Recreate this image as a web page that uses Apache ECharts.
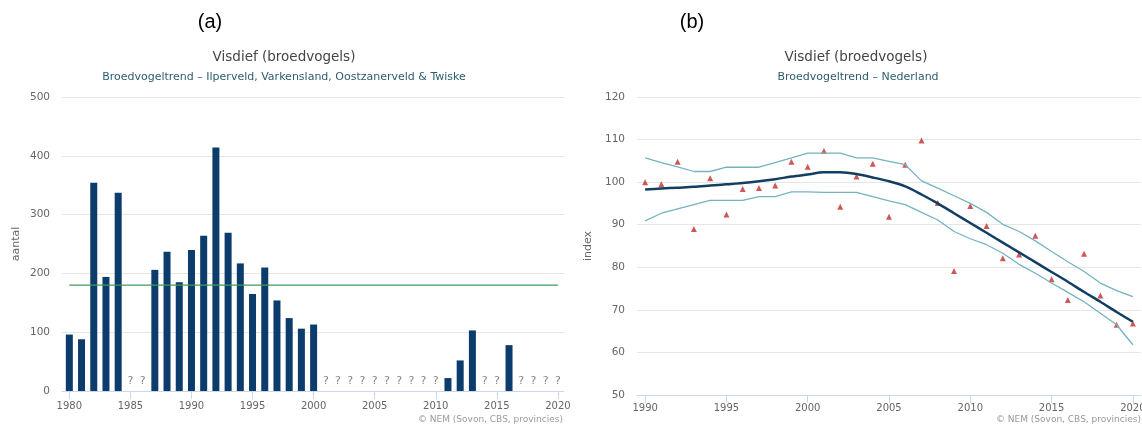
<!DOCTYPE html>
<html>
<head>
<meta charset="utf-8">
<script src="https://cdn.jsdelivr.net/npm/echarts@6.0.0/dist/echarts.min.js"></script>
<style>
html, body { margin: 0; padding: 0; background: #fff; }
#chart { width: 1142px; height: 427px; }
</style>
</head>
<body>
<div id="chart"></div>
<script>
// (a) broedparen per jaar, Ilperveld e.o.
var barYears = [1980, 1981, 1982, 1983, 1984, 1987, 1988, 1989, 1990, 1991, 1992, 1993,
  1994, 1995, 1996, 1997, 1998, 1999, 2000, 2011, 2012, 2013, 2016]
var barCounts = [96, 88, 354, 194, 337, 206, 237, 185, 240, 264, 414, 269,
  217, 165, 210, 154, 124, 106, 113, 22, 52, 103, 78]
// jaren zonder telling (vraagteken)
var missingYears = [1985, 1986, 2001, 2002, 2003, 2004, 2005, 2006, 2007, 2008, 2009, 2010,
  2014, 2015, 2017, 2018, 2019, 2020]
var meanYears = [1980, 2020]
var meanCount = 180
var tickYearsA = [1980, 1985, 1990, 1995, 2000, 2005, 2010, 2015, 2020]

// (b) index Nederland
var indexYears = [1990, 1991, 1992, 1993, 1994, 1995, 1996, 1997, 1998, 1999, 2000, 2001,
  2002, 2003, 2004, 2005, 2006, 2007, 2008, 2009, 2010, 2011, 2012, 2013, 2014, 2015,
  2016, 2017, 2018, 2019, 2020]
var indexObserved = [100.0, 99.5, 104.8, 89.0, 100.9, 92.4, 98.4, 98.6, 99.2, 104.8, 103.6, 107.3,
  94.2, 101.3, 104.3, 91.9, 104.1, 109.8, 95.1, 79.1, 94.4, 89.7, 82.1, 83.0, 87.4, 77.2,
  72.3, 83.2, 73.4, 66.5, 66.8]
var indexTrend = [98.3, 98.5, 98.7, 98.9, 99.2, 99.5, 99.8, 100.2, 100.7, 101.3, 101.8, 102.3,
  102.3, 101.9, 101.1, 100.2, 99.0, 97.1, 95.0, 92.7, 90.4, 88.1, 85.8, 83.5, 81.2, 78.9,
  76.6, 74.2, 71.9, 69.5, 67.2]
var indexUpper = [105.7, 104.6, 103.6, 102.5, 102.5, 103.5, 103.5, 103.5, 104.6, 105.7, 106.8, 106.8,
  106.8, 105.7, 105.7, 104.9, 104.1, 100.3, 98.6, 96.8, 95.0, 92.9, 90.1, 88.4, 86.2, 83.7,
  81.3, 79.0, 76.3, 74.5, 73.1]
var indexLower = [90.9, 92.7, 93.7, 94.7, 95.7, 95.7, 95.7, 96.6, 96.6, 97.7, 97.7, 97.6,
  97.6, 97.6, 96.6, 95.6, 94.7, 92.9, 91.1, 88.4, 86.7, 85.3, 83.3, 80.7, 78.6, 76.3,
  74.1, 71.9, 69.2, 66.5, 61.8]
var tickYearsB = [1990, 1995, 2000, 2005, 2010, 2015, 2020]

function pairs(xs, ys) {
  return xs.map(function (x, i) { return [x, ys[i]] })
}

var font = 'DejaVu Sans'
var chart = echarts.init(document.getElementById('chart'), null, {renderer: 'canvas'})

function xAxisFor(idx, min, max, ticks, margin) {
  return {
    type: 'value', gridIndex: idx, min: min, max: max,
    splitLine: {show: false},
    axisLine: {show: true, lineStyle: {color: '#ccd6eb'}},
    axisTick: {show: true, customValues: ticks, length: 8, lineStyle: {color: '#ccd6eb'}},
    axisLabel: {
      customValues: ticks, color: '#666', fontSize: 10, fontFamily: font, margin: margin,
      formatter: function (v) { return String(v) }
    }
  }
}

function yAxisFor(idx, min, max, interval, name, nameGap) {
  return {
    type: 'value', gridIndex: idx, min: min, max: max, interval: interval,
    name: name, nameLocation: 'middle', nameGap: nameGap, nameRotate: 90,
    nameTextStyle: {color: '#666', fontSize: 11, fontFamily: font},
    axisLine: {show: false},
    axisTick: {show: false},
    axisLabel: {color: '#666', fontSize: 10.5, fontFamily: font, margin: 12},
    splitLine: {lineStyle: {color: '#e6e6e6'}}
  }
}

function label(text, x, y, size, color, family) {
  return {
    type: 'text', x: x, y: y,
    style: {text: text, fill: color, font: size + 'px "' + (family || font) + '"',
      textAlign: 'center', textVerticalAlign: 'middle'}
  }
}

var option = {
  animation: false,
  backgroundColor: '#fff',
  grid: [
    {left: 62, right: 578, top: 97, bottom: 36, outerBoundsMode: 'none'},
    {left: 637, right: 1, top: 97, bottom: 32, outerBoundsMode: 'none'}
  ],
  xAxis: [
    xAxisFor(0, 1979.4, 2020.5, tickYearsA, 10),
    xAxisFor(1, 1989.5, 2020.5, tickYearsB, 8)
  ],
  yAxis: [
    yAxisFor(0, 0, 500, 100, 'aantal', 40),
    yAxisFor(1, 50, 120, 10, 'index', 43)
  ],
  graphic: [
    label('(a)', 210, 22, 20, '#000', 'Liberation Sans'),
    label('Visdief (broedvogels)', 284, 57, 13.5, '#444'),
    label('Broedvogeltrend – Ilperveld, Varkensland, Oostzanerveld & Twiske', 284, 77, 11, '#2d5d6e'),
    label('(b)', 692, 22, 20, '#000', 'Liberation Sans'),
    label('Visdief (broedvogels)', 856, 57, 13.5, '#444'),
    label('Broedvogeltrend – Nederland', 858, 77, 11, '#2d5d6e'),
    {type: 'text', right: 579, top: 415,
      style: {text: '© NEM (Sovon, CBS, provincies)', fill: '#999', font: '9px "' + font + '"'}},
    {type: 'text', right: 1, top: 415,
      style: {text: '© NEM (Sovon, CBS, provincies)', fill: '#999', font: '9px "' + font + '"'}}
  ],
  series: [
    {
      name: 'aantal', type: 'bar', xAxisIndex: 0, yAxisIndex: 0,
      barWidth: 7, itemStyle: {color: '#0b3c6b'},
      data: pairs(barYears, barCounts)
    },
    {
      name: 'onbekend', type: 'scatter', xAxisIndex: 0, yAxisIndex: 0,
      symbolSize: 1, itemStyle: {color: 'rgba(0,0,0,0)'},
      label: {show: true, formatter: '?', position: 'top', distance: 4,
        color: '#666', fontSize: 11, fontFamily: font},
      data: missingYears.map(function (y) { return [y, 0] })
    },
    {
      name: 'gemiddelde', type: 'line', xAxisIndex: 0, yAxisIndex: 0,
      showSymbol: false, lineStyle: {color: '#3f9a5a', width: 1.2},
      data: meanYears.map(function (y) { return [y, meanCount] })
    },
    {
      name: 'boven', type: 'line', xAxisIndex: 1, yAxisIndex: 1,
      showSymbol: false, lineStyle: {color: '#74b3c0', width: 1.3},
      data: pairs(indexYears, indexUpper)
    },
    {
      name: 'onder', type: 'line', xAxisIndex: 1, yAxisIndex: 1,
      showSymbol: false, lineStyle: {color: '#74b3c0', width: 1.3},
      data: pairs(indexYears, indexLower)
    },
    {
      name: 'trend', type: 'line', xAxisIndex: 1, yAxisIndex: 1,
      showSymbol: false, smooth: 0.3, lineStyle: {color: '#123e63', width: 2.5},
      data: pairs(indexYears, indexTrend)
    },
    {
      name: 'index', type: 'scatter', xAxisIndex: 1, yAxisIndex: 1,
      symbol: 'triangle', symbolSize: 6, itemStyle: {color: '#c0302b'},
      data: pairs(indexYears, indexObserved)
    }
  ]
}

chart.setOption(option)
</script>
</body>
</html>
